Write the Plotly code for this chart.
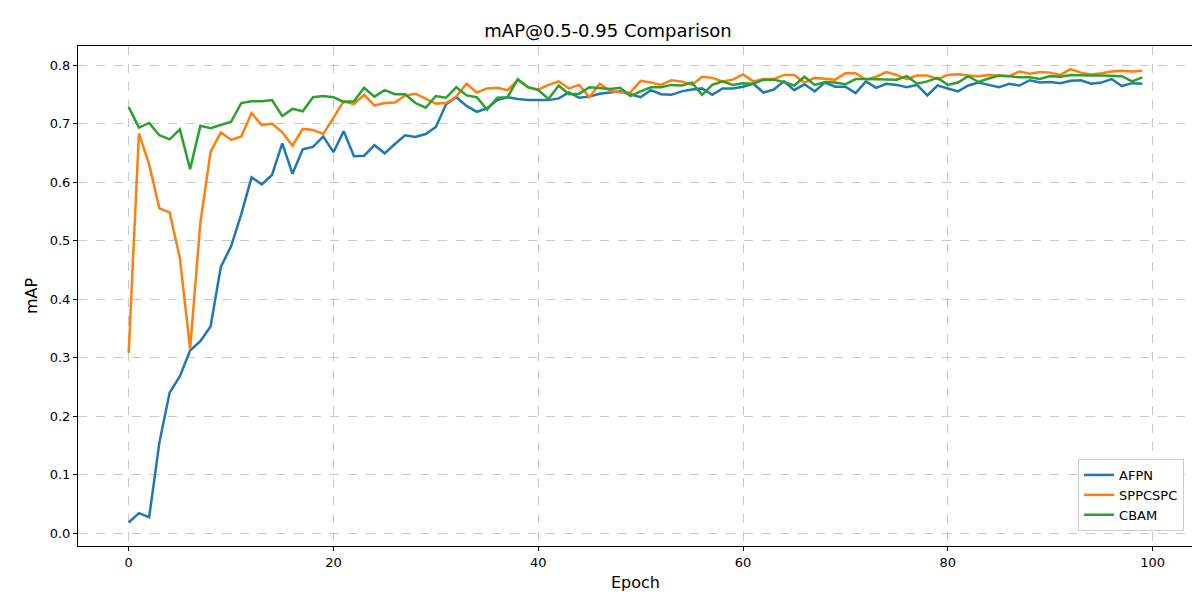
import plotly.graph_objects as go

epochs = list(range(100))

afpn = [0.018, 0.034, 0.027, 0.155, 0.24, 0.268, 0.312, 0.328, 0.353, 0.455,
        0.49, 0.545, 0.608, 0.596, 0.612, 0.666, 0.614, 0.656, 0.66, 0.678,
        0.651, 0.687, 0.644, 0.645, 0.663, 0.649, 0.665, 0.68, 0.677, 0.682,
        0.694, 0.733, 0.745, 0.73, 0.72, 0.726, 0.74, 0.745, 0.742, 0.74,
        0.74, 0.74, 0.743, 0.753, 0.744, 0.746, 0.751, 0.753, 0.755, 0.75,
        0.745, 0.757, 0.75, 0.749, 0.755, 0.758, 0.76, 0.749, 0.76, 0.76,
        0.763, 0.768, 0.753, 0.758, 0.772, 0.757, 0.767, 0.755, 0.77, 0.763,
        0.763, 0.752, 0.772, 0.761, 0.768, 0.766, 0.762, 0.766, 0.748, 0.765,
        0.76, 0.755, 0.765, 0.77, 0.766, 0.762, 0.768, 0.765, 0.774, 0.77,
        0.771, 0.769, 0.773, 0.774, 0.768, 0.77, 0.776, 0.764, 0.769, 0.768]

sppcspc = [0.308, 0.683, 0.63, 0.555, 0.548, 0.47, 0.315, 0.53, 0.652, 0.685,
           0.672, 0.678, 0.718, 0.697, 0.7, 0.685, 0.662, 0.691, 0.689, 0.682,
           0.71, 0.738, 0.733, 0.749, 0.731, 0.735, 0.736, 0.748, 0.751, 0.742,
           0.734, 0.735, 0.746, 0.768, 0.753, 0.76, 0.761, 0.757, 0.774, 0.762,
           0.758, 0.766, 0.772, 0.76, 0.766, 0.745, 0.768, 0.756, 0.753, 0.753,
           0.773, 0.77, 0.766, 0.774, 0.772, 0.766, 0.78, 0.778, 0.772, 0.775,
           0.784, 0.772, 0.776, 0.776, 0.783, 0.783, 0.77, 0.778, 0.776, 0.775,
           0.786, 0.786, 0.775, 0.78, 0.788, 0.783, 0.776, 0.782, 0.782, 0.776,
           0.783, 0.784, 0.782, 0.781, 0.783, 0.782, 0.781, 0.789, 0.785, 0.788,
           0.787, 0.783, 0.793, 0.787, 0.784, 0.786, 0.789, 0.79, 0.789, 0.79]

cbam = [0.728, 0.693, 0.701, 0.68, 0.673, 0.69, 0.622, 0.696, 0.692, 0.697,
        0.703, 0.735, 0.738, 0.738, 0.74, 0.713, 0.725, 0.721, 0.745, 0.747,
        0.745, 0.737, 0.738, 0.761, 0.746, 0.757, 0.75, 0.75, 0.735, 0.727,
        0.747, 0.744, 0.762, 0.748, 0.745, 0.724, 0.744, 0.745, 0.776, 0.762,
        0.757, 0.742, 0.765, 0.75, 0.751, 0.762, 0.76, 0.759, 0.761, 0.747,
        0.755, 0.762, 0.762, 0.766, 0.765, 0.77, 0.749, 0.766, 0.772, 0.766,
        0.769, 0.768, 0.775, 0.775, 0.771, 0.765, 0.78, 0.766, 0.771, 0.77,
        0.767, 0.776, 0.776, 0.776, 0.776, 0.775, 0.781, 0.768, 0.772, 0.778,
        0.766, 0.77, 0.781, 0.771, 0.777, 0.782, 0.781, 0.779, 0.779, 0.776,
        0.781, 0.78, 0.783, 0.782, 0.782, 0.782, 0.781, 0.781, 0.772, 0.779]

series = [("AFPN", afpn, "#1f77b4"), ("SPPCSPC", sppcspc, "#ff7f0e"), ("CBAM", cbam, "#2ca02c")]

fig = go.Figure()
for name, vals, color in series:
    fig.add_trace(go.Scatter(x=epochs, y=vals, name=name, mode="lines",
                             line=dict(color=color, width=2.5)))

axis_style = dict(showline=True, mirror=True, linecolor="black", linewidth=1,
                  ticks="outside", ticklen=4, tickcolor="black", automargin=False,
                  showgrid=True, gridcolor="#c8c8c8", griddash="dash", zeroline=False,
                  tickfont=dict(size=13, color="black"))

fig.update_layout(
    width=1200, height=600,
    template="plotly_white",
    paper_bgcolor="white", plot_bgcolor="white",
    margin=dict(l=70, r=15, t=38, b=62),
    font=dict(family="DejaVu Sans", color="black"),
    title=dict(text="mAP@0.5-0.95 Comparison", x=0.5, xanchor="center", y=0.962,
               yanchor="middle", automargin=False, font=dict(size=18)),
    xaxis=dict(title=dict(text="Epoch", font=dict(size=16), standoff=8),
               range=[-4.95, 103.95], dtick=20, **axis_style),
    yaxis=dict(title=dict(text="mAP", font=dict(size=16), standoff=8),
               range=[-0.0222, 0.8325], dtick=0.1, tickformat=".1f", **axis_style),
    legend=dict(x=0.992, y=0.03, xanchor="right", yanchor="bottom",
                bordercolor="#cccccc", borderwidth=1, bgcolor="white",
                font=dict(size=13)),
)

fig.write_html("out.html")
